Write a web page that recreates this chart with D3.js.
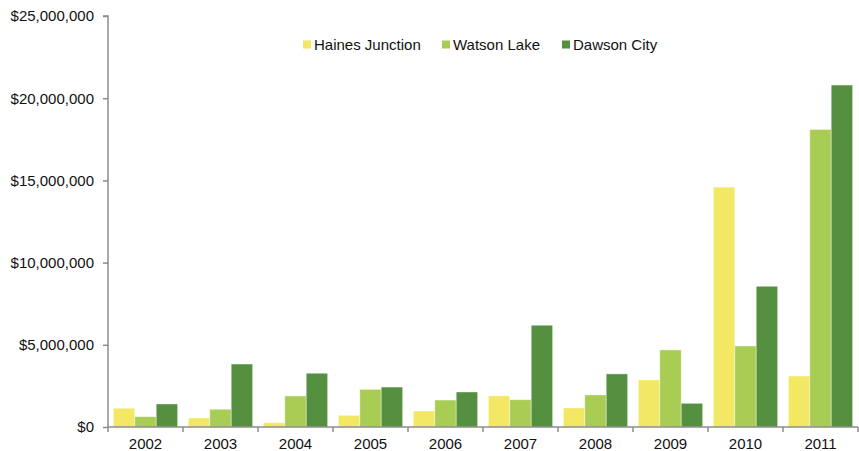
<!DOCTYPE html>
<html>
<head>
<meta charset="utf-8">
<script src="https://cdn.jsdelivr.net/npm/d3@7"></script>
<style>
body{margin:0;background:#fff;}
text{font-family:"Liberation Sans",Arial,sans-serif;}
</style>
</head>
<body>
<svg id="chart" width="859" height="451"></svg>
<script>
const years = ["2002","2003","2004","2005","2006","2007","2008","2009","2010","2011"];
const seriesNames = ["Haines Junction","Watson Lake","Dawson City"];
const hainesJunction = [1140000,550000,260000,710000,970000,1890000,1160000,2860000,14590000,3100000];
const watsonLake = [630000,1080000,1890000,2290000,1640000,1660000,1950000,4690000,4930000,18100000];
const dawsonCity = [1400000,3830000,3270000,2430000,2130000,6190000,3230000,1440000,8560000,20800000];
const yTicks = [0,5000000,10000000,15000000,20000000,25000000];
const colors = ["#F2E864","#A9CD54","#558F40"];

(function(){
const seriesValues = [hainesJunction, watsonLake, dawsonCity];
const svg = d3.select("#chart");
const mLeft = 108, mRight = 858, mTop = 16, mBottom = 427;
const fs = 15;

const x = d3.scaleBand().domain(years).range([mLeft, mRight]).paddingInner(0).paddingOuter(0);
const xi = d3.scaleBand().domain(seriesNames).range([0, x.bandwidth()]).paddingInner(0).paddingOuter(0.25);
const y = d3.scaleLinear().domain([0, 25000000]).range([mBottom, mTop]);

// bars
const g = svg.append("g");
years.forEach((yr, i) => {
  seriesNames.forEach((s, j) => {
    const v = seriesValues[j][i];
    g.append("rect")
      .attr("x", x(yr) + xi(s))
      .attr("y", y(v))
      .attr("width", xi.bandwidth())
      .attr("height", mBottom - y(v))
      .attr("fill", colors[j])
      .attr("stroke", "rgba(255,255,255,0.5)")
      .attr("stroke-width", 0.8);
  });
});

// y axis
const fmt = d => "$" + d3.format(",")(d);
const yAxis = d3.axisLeft(y).tickValues(yTicks).tickFormat(fmt).tickSize(5).tickPadding(9);
const ya = svg.append("g").attr("transform", `translate(${mLeft},0)`).call(yAxis);
ya.select(".domain").attr("stroke", "#8c8c8c").attr("stroke-width", 1.5).attr("d", `M-5,${mTop}H0V${mBottom}`);
ya.selectAll(".tick line").attr("stroke", "#8c8c8c").attr("stroke-width", 1.5);
ya.selectAll("text").attr("font-size", fs).attr("fill", "#111").style("font-family", "'Liberation Sans', Arial, sans-serif");

// x axis
const xAxis = d3.axisBottom(x).tickSize(0).tickPadding(11);
const xa = svg.append("g").attr("transform", `translate(0,${mBottom})`).call(xAxis);
xa.select(".domain").attr("stroke", "#8c8c8c").attr("stroke-width", 1.5).attr("d", `M${mLeft},0H${mRight}`);
xa.selectAll("text").attr("font-size", fs).attr("fill", "#111").style("font-family", "'Liberation Sans', Arial, sans-serif");
const bounds = years.map(d => x(d)).concat([mRight]);
xa.selectAll(".bt").data(bounds).enter().append("line")
  .attr("x1", d => d).attr("x2", d => d).attr("y1", 0).attr("y2", 5)
  .attr("stroke", "#8c8c8c").attr("stroke-width", 1.5);

// legend
const legendX = [303, 442, 562];
const lg = svg.append("g");
seriesNames.forEach((s, j) => {
  lg.append("rect").attr("x", legendX[j]).attr("y", 40.5).attr("width", 8).attr("height", 8).attr("fill", colors[j]);
  lg.append("text").attr("x", legendX[j] + 11).attr("y", 49.5).attr("font-size", fs).attr("fill", "#111").text(s);
});
})();
</script>
</body>
</html>
